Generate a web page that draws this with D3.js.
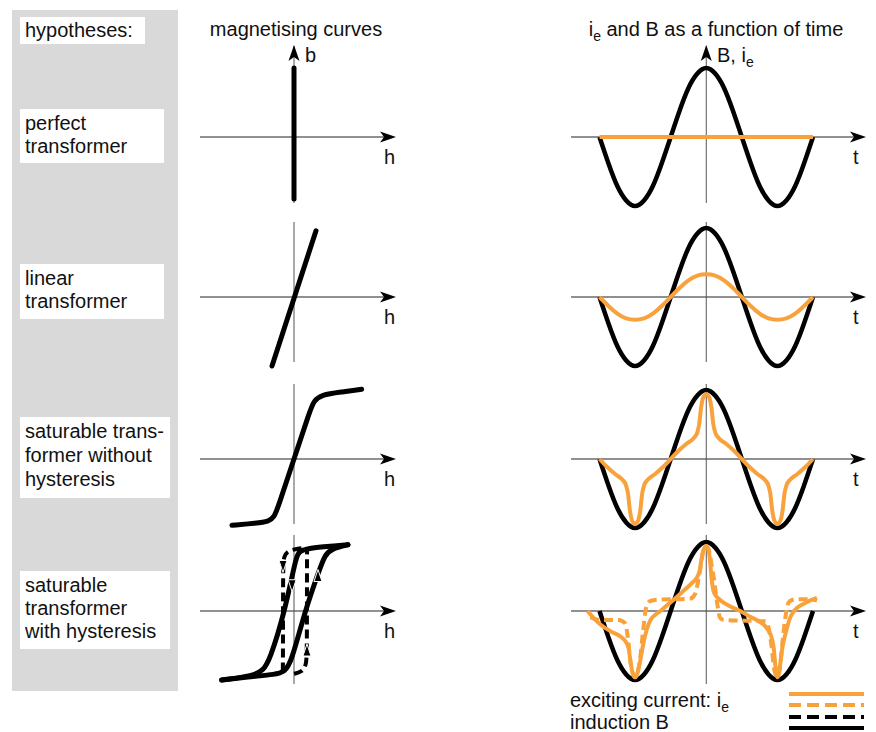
<!DOCTYPE html>
<html>
<head>
<meta charset="utf-8">
<script src="https://cdn.jsdelivr.net/npm/d3@7"></script>
<style>
body { margin: 0; background: #fff; }
svg text { font-family: "Liberation Sans", Arial, sans-serif; font-size: 20px; fill: #111; }
</style>
</head>
<body>
<div id="chart"></div>
<script>
(function(){
// ---- data ----
const hypotheses = [
    ["perfect", "transformer"],
    ["linear", "transformer"],
    ["saturable trans-", "former without", "hysteresis"],
    ["saturable", "transformer", "with hysteresis"]
];

// magnetising curves, [h, b]
const perfectCurve = [[0, -0.9], [0, 1.0]];
const linearCurve = [[-0.234, -1.0], [0.234, 0.96]];
const saturableCurve = [[-0.66, -0.96], [-0.4, -0.93], [-0.27, -0.91], [-0.21, -0.84], [-0.17, -0.7],
    [0, 0], [0.17, 0.7], [0.21, 0.84], [0.29, 0.93], [0.5, 0.97], [0.72, 1.01]];
const hystAscending = [[-0.77, -1.0], [-0.45, -0.95], [-0.2, -0.92], [-0.1, -0.88], [-0.03, -0.75],
    [0.117, 0], [0.255, 0.54], [0.33, 0.82], [0.4, 0.9], [0.574, 0.96]];
const hystDescending = [[0.574, 0.96], [0.2, 0.92], [0.06, 0.88], [0.02, 0.78],
    [-0.096, 0], [-0.26, -0.72], [-0.33, -0.86], [-0.43, -0.94], [-0.77, -1.0]];
const squareDown = [[0.08, 0.91], [-0.06, 0.88], [-0.11, 0.8], [-0.117, 0.6], [-0.117, -0.82], [-0.12, -0.9]];
const squareUp = [[0.0, -0.91], [0.09, -0.88], [0.13, -0.78], [0.138, -0.6], [0.138, 0.86], [0.14, 0.92]];

// time functions, t in degrees
const phase = [-270, -247.5, -225, -202.5, -180, -157.5, -135, -112.5, -90, -67.5, -45, -22.5, 0,
    22.5, 45, 67.5, 90, 112.5, 135, 157.5, 180, 202.5, 225, 247.5, 270];
const inductionB = [0, -0.38, -0.71, -0.92, -1, -0.92, -0.71, -0.38, 0, 0.38, 0.71, 0.92, 1,
    0.92, 0.71, 0.38, 0, -0.38, -0.71, -0.92, -1, -0.92, -0.71, -0.38, 0];
const currentPerfect = [0, 0, 0, 0, 0, 0, 0, 0, 0, 0, 0, 0, 0, 0, 0, 0, 0, 0, 0, 0, 0, 0, 0, 0, 0];
const currentLinear = [0, -0.13, -0.24, -0.31, -0.33, -0.31, -0.24, -0.13, 0, 0.13, 0.24, 0.31, 0.33,
    0.31, 0.24, 0.13, 0, -0.13, -0.24, -0.31, -0.33, -0.31, -0.24, -0.13, 0];

const satPhase = [-270, -250, -230, -212, -203, -198, -193, -187, -180, -173, -167, -162, -157, -148, -130, -110,
    -90, -70, -50, -32, -23, -18, -13, -7, 0, 7, 13, 18, 23, 32, 50, 70,
    90, 110, 130, 148, 157, 162, 167, 173, 180, 187, 193, 198, 203, 212, 230, 250, 270];
const currentSaturable = [0, -0.12, -0.22, -0.3, -0.38, -0.5, -0.75, -0.9, -0.94, -0.9, -0.75, -0.5, -0.38, -0.3, -0.22, -0.12,
    0, 0.12, 0.22, 0.3, 0.38, 0.5, 0.75, 0.9, 0.94, 0.9, 0.75, 0.5, 0.38, 0.3, 0.22, 0.12,
    0, -0.12, -0.22, -0.3, -0.38, -0.5, -0.75, -0.9, -0.94, -0.9, -0.75, -0.5, -0.38, -0.3, -0.22, -0.12, 0];

const hystPhase = [-300, -285, -267, -240, -217, -203, -196, -192, -186, -180, -174, -168, -160, -151, -141, -128,
    -116, -100, -83, -60, -37, -23, -16, -12, -6, 0, 6, 10, 14, 20, 35, 60,
    86, 110, 136, 157, 166, 171, 175, 180, 185, 192, 205, 212, 222, 245, 262, 280];
const currentHyst = [0, -0.1, -0.2, -0.3, -0.37, -0.45, -0.55, -0.72, -0.9, -0.96, -0.9, -0.75, -0.5, -0.28, -0.13, -0.05,
    0, 0.08, 0.16, 0.28, 0.4, 0.49, 0.6, 0.75, 0.9, 0.94, 0.88, 0.7, 0.45, 0.26, 0.16, 0.07,
    0, -0.08, -0.16, -0.28, -0.4, -0.55, -0.8, -0.96, -0.85, -0.55, -0.23, -0.1, 0, 0.1, 0.15, 0.19];

const squarePhase = [-293, -270, -222, -205, -198, -192, -186, -180, -174, -168, -160, -152, -143, -130, -40, -28,
    -20, -14, -7, 0, 7, 14, 20, 28, 35, 45, 150, 158, 165, 172, 180, 186, 192, 200, 208, 217, 230, 260, 280];
const currentSquare = [-0.09, -0.13, -0.13, -0.18, -0.4, -0.72, -0.9, -0.96, -0.9, -0.72, -0.3, 0.05, 0.14, 0.16, 0.18, 0.25,
    0.45, 0.65, 0.88, 0.94, 0.88, 0.65, 0.45, 0.1, -0.1, -0.13, -0.15, -0.25, -0.5, -0.85, -0.96, -0.85, -0.5, -0.1, 0.12, 0.16, 0.17, 0.17, 0.15];

const legendLabels = ["exciting current: i", "induction B"];

// ---- layout ----
const W = 876, H = 732;
const orange = "#f9a23c";
const rowAxisY = [137, 297, 459, 611];
const axisTop = [46, 222, 384, 535];
const axisBottom = [203, 362, 524, 684];
const boxes = [
    { y: 109, h: 54, w: 144, gap: 23 },
    { y: 264, h: 55, w: 144, gap: 23 },
    { y: 417, h: 81, w: 150, gap: 24 },
    { y: 571, h: 78, w: 150, gap: 23 }
];

const svg = d3.select("#chart")
    .append("svg")
    .attr("width", W)
    .attr("height", H);

// gray hypotheses column
svg.append("rect")
    .attr("x", 12).attr("y", 10)
    .attr("width", 166).attr("height", 681)
    .attr("fill", "#d9d9d9");

svg.append("rect")
    .attr("x", 20).attr("y", 17).attr("width", 125).attr("height", 27)
    .attr("fill", "#fff");
svg.append("text").attr("x", 25).attr("y", 37).text("hypotheses:");

boxes.forEach((b, i) => {
    svg.append("rect")
        .attr("x", 20).attr("y", b.y).attr("width", b.w).attr("height", b.h)
        .attr("fill", "#fff");
    const txt = svg.append("text").attr("x", 25).attr("y", b.y + 21);
    hypotheses[i].forEach((line, j) => {
        txt.append("tspan").attr("x", 25).attr("dy", j === 0 ? 0 : b.gap).text(line);
    });
});

// column titles
svg.append("text")
    .attr("x", 296).attr("y", 36)
    .attr("text-anchor", "middle")
    .text("magnetising curves");

const title2 = svg.append("text")
    .attr("x", 716).attr("y", 36)
    .attr("text-anchor", "middle");
title2.append("tspan").text("i");
title2.append("tspan").attr("dy", 5).style("font-size", "14px").text("e");
title2.append("tspan").attr("dy", -5).text(" and B as a function of time");

// scales
const hScale = d3.scaleLinear().domain([-1, 1]).range([200, 388]);
const tScale = d3.scaleLinear().domain([-270, 270]).range([599.5, 813]);
const xLeft = hScale(0), xRight = tScale(0);
function vScale(row) {
    return d3.scaleLinear().domain([-1, 1]).range([rowAxisY[row] + 69, rowAxisY[row] - 69]);
}

function arrowRight(x, y) {
    svg.append("path")
        .attr("d", `M${x},${y}L${x - 16},${y - 5.5}L${x - 12},${y}L${x - 16},${y + 5.5}Z`)
        .attr("fill", "#000");
}
function arrowUp(x, y) {
    svg.append("path")
        .attr("d", `M${x},${y}L${x - 5.5},${y + 16}L${x},${y + 12}L${x + 5.5},${y + 16}Z`)
        .attr("fill", "#000");
}

// axes
rowAxisY.forEach((y, i) => {
    // left panel
    svg.append("line")
        .attr("x1", 200).attr("x2", 392).attr("y1", y).attr("y2", y)
        .attr("stroke", "#222").attr("stroke-width", 1.2);
    arrowRight(396, y);
    svg.append("line")
        .attr("x1", xLeft).attr("x2", xLeft).attr("y1", axisTop[i]).attr("y2", axisBottom[i])
        .attr("stroke", "#555").attr("stroke-width", 1);
    svg.append("text").attr("x", 384).attr("y", y + 27).text("h");

    // right panel
    svg.append("line")
        .attr("x1", 571).attr("x2", 862).attr("y1", y).attr("y2", y)
        .attr("stroke", "#222").attr("stroke-width", 1.2);
    arrowRight(866, y);
    svg.append("line")
        .attr("x1", xRight).attr("x2", xRight).attr("y1", axisTop[i]).attr("y2", axisBottom[i])
        .attr("stroke", "#555").attr("stroke-width", 1);
    svg.append("text").attr("x", 853).attr("y", y + 27).text("t");
});
arrowUp(xLeft, 45);
arrowUp(xRight, 45);
svg.append("text").attr("x", 305).attr("y", 62).text("b");
const bLabel = svg.append("text").attr("x", 717).attr("y", 62);
bLabel.append("tspan").text("B, i");
bLabel.append("tspan").attr("dy", 5).style("font-size", "14px").text("e");

// magnetising curves
function drawBH(points, row, curve, dashed) {
    const v = vScale(row);
    const line = d3.line()
        .x(d => hScale(d[0]))
        .y(d => v(d[1]))
        .curve(curve);
    svg.append("path")
        .attr("d", line(points))
        .attr("fill", "none")
        .attr("stroke", "#000")
        .attr("stroke-width", dashed ? 4 : 5)
        .attr("stroke-dasharray", dashed ? "9,5" : null)
        .attr("stroke-linecap", dashed ? "butt" : "round");
}
drawBH(perfectCurve, 0, d3.curveLinear);
drawBH(linearCurve, 1, d3.curveLinear);
drawBH(saturableCurve, 2, d3.curveBasis);
drawBH(hystAscending, 3, d3.curveBasis);
drawBH(hystDescending, 3, d3.curveBasis);
drawBH(squareDown, 3, d3.curveBasis, true);
drawBH(squareUp, 3, d3.curveBasis, true);

// little direction arrows on the loop: [h, b, direction]
const loopArrows = [[-0.117, 0.66, 1], [0.138, -0.58, -1], [-0.02, 0.38, 1], [0.255, 0.5, -1]];
loopArrows.forEach(a => {
    const x = hScale(a[0]), y = vScale(3)(a[1]), s = a[2];
    svg.append("path")
        .attr("d", `M${x},${y + 7 * s}L${x - 4},${y - 5 * s}L${x + 4},${y - 5 * s}Z`)
        .attr("fill", "#000")
        .attr("stroke", "#fff")
        .attr("stroke-width", 1);
});

// time curves
function drawT(ts, vals, row, color, curve, dashed) {
    const v = vScale(row);
    const line = d3.line()
        .x((d, i) => tScale(ts[i]))
        .y(d => v(d))
        .curve(curve);
    svg.append("path")
        .attr("d", line(vals))
        .attr("fill", "none")
        .attr("stroke", color)
        .attr("stroke-width", color === orange ? 4 : 4.5)
        .attr("stroke-dasharray", dashed ? "9,5" : null)
        .attr("stroke-linejoin", "round");
}
const blackCurve = d3.curveNatural;
drawT(phase, inductionB, 0, "#000", blackCurve);
drawT(phase, currentPerfect, 0, orange, d3.curveLinear);
drawT(phase, inductionB, 1, "#000", blackCurve);
drawT(phase, currentLinear, 1, orange, d3.curveNatural);
drawT(phase, inductionB, 2, "#000", blackCurve);
drawT(satPhase, currentSaturable, 2, orange, d3.curveMonotoneX);
drawT(phase, inductionB, 3, "#000", blackCurve);
drawT(squarePhase, currentSquare, 3, orange, d3.curveMonotoneX, true);
drawT(hystPhase, currentHyst, 3, orange, d3.curveMonotoneX);

// legend
const lg1 = svg.append("text").attr("x", 570).attr("y", 707);
lg1.append("tspan").text(legendLabels[0]);
lg1.append("tspan").attr("dy", 5).style("font-size", "14px").text("e");
svg.append("text").attr("x", 570).attr("y", 729).text(legendLabels[1]);

const legendLines = [
    { y: 694, color: orange, dash: null },
    { y: 705, color: orange, dash: "12,6" },
    { y: 717, color: "#000", dash: "12,6" },
    { y: 728, color: "#000", dash: null }
];
legendLines.forEach(l => {
    svg.append("line")
        .attr("x1", 789).attr("x2", 864).attr("y1", l.y).attr("y2", l.y)
        .attr("stroke", l.color).attr("stroke-width", 4)
        .attr("stroke-dasharray", l.dash);
});
})();
</script>
</body>
</html>
